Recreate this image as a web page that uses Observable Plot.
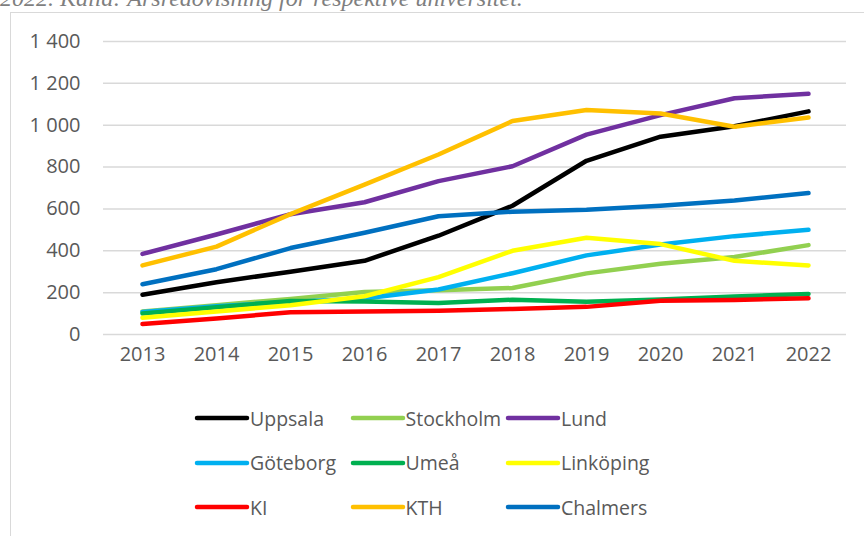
<!DOCTYPE html>
<html>
<head>
<meta charset="utf-8">
<script src="https://cdn.jsdelivr.net/npm/d3@7"></script>
<script src="https://cdn.jsdelivr.net/npm/@observablehq/plot@0.6"></script>
<style>
  html, body { margin: 0; padding: 0; background: #fff; }
  #wrap { position: relative; width: 864px; height: 536px; overflow: hidden; font-family: "Open Sans", sans-serif; }
  #caption { position: absolute; left: 0px; top: -15px; font-family: "Liberation Serif", serif; font-style: italic; font-size: 24px; color: #7f7f7f; white-space: nowrap; }
  #frame { position: absolute; left: 10px; top: 12px; width: 900px; height: 600px; border: 1.5px solid #d9d9d9; box-sizing: border-box; }
  #chart { position: absolute; left: 0; top: 0; }
  #legend { position: absolute; left: 192px; top: 396px; display: grid; grid-template-columns: 155.5px 155.5px 160px; grid-auto-rows: 44.5px; font-size: 19.5px; color: #595959; }
  .item { display: flex; align-items: center; height: 44px; }
  .item svg { margin-right: 0px; }
</style>
</head>
<body>
<div id="wrap">
  <div id="caption">2022. Källa: Årsredovisning för respektive universitet.</div>
  <div id="frame"></div>
  <div id="chart"></div>
  <div id="legend"></div>
</div>
<script>
const years = ["2013","2014","2015","2016","2017","2018","2019","2020","2021","2022"];
const seriesNames = ["Uppsala","Stockholm","Lund","Göteborg","Umeå","Linköping","KI","KTH","Chalmers"];
const seriesColors = ["#000000","#92D050","#7030A0","#00B0F0","#00B050","#FFFF00","#FF0000","#FFC000","#0070C0"];
const uppsala   = [190, 250, 300, 352, 472, 615, 830, 945, 995, 1066];
const stockholm = [110, 140, 170, 203, 212, 222, 292, 338, 370, 427];
const lund      = [385, 478, 575, 632, 733, 804, 955, 1048, 1129, 1150];
const goteborg  = [108, 135, 155, 172, 215, 293, 378, 430, 470, 500];
const umea      = [100, 130, 160, 158, 150, 166, 157, 167, 181, 194];
const linkoping = [80, 110, 140, 183, 274, 400, 462, 432, 352, 330];
const ki        = [50, 77, 106, 110, 113, 122, 132, 161, 165, 173];
const kth       = [330, 420, 575, 716, 860, 1020, 1073, 1056, 993, 1037];
const chalmers  = [240, 312, 413, 486, 565, 587, 596, 615, 640, 676];
const yTicks = [0, 200, 400, 600, 800, 1000, 1200, 1400];

const seriesValues = [uppsala, stockholm, lund, goteborg, umea, linkoping, ki, kth, chalmers];
const data = [];
seriesNames.forEach((name, i) => {
  years.forEach((yr, j) => data.push({series: name, year: yr, value: seriesValues[i][j]}));
});

const fmt = d => d >= 1000 ? `${Math.floor(d / 1000)} ${String(d % 1000).padStart(3, "0")}` : String(d);

const chart = Plot.plot({
  width: 864,
  height: 380,
  marginLeft: 103,
  marginRight: 18,
  marginTop: 41,
  marginBottom: 46,
  style: {fontFamily: "'Open Sans', sans-serif", fontSize: "20px", color: "#595959", background: "transparent"},
  x: {type: "point", domain: years, padding: 0.5, label: null},
  y: {domain: [0, 1400], label: null},
  color: {domain: seriesNames, range: seriesColors},
  marks: [
    Plot.ruleY(yTicks, {stroke: "#d9d9d9", strokeWidth: 1.5}),
    Plot.axisY({ticks: yTicks, tickFormat: fmt, tickSize: 0, tickPadding: 23, label: null, fontSize: 20}),
    Plot.axisX({tickSize: 0, tickPadding: 12, label: null, fontSize: 20}),
    Plot.line(data, {x: "year", y: "value", z: "series", stroke: "series", strokeWidth: 4.5, strokeLinecap: "round", strokeLinejoin: "round"})
  ]
});
document.getElementById("chart").appendChild(chart);

const legend = document.getElementById("legend");
seriesNames.forEach((name, i) => {
  const item = document.createElement("div");
  item.className = "item";
  item.innerHTML = `<svg width="58" height="10"><line x1="5" y1="5" x2="55" y2="5" stroke="${seriesColors[i]}" stroke-width="4.5" stroke-linecap="round"/></svg><span>${name}</span>`;
  legend.appendChild(item);
});
</script>
</body>
</html>
